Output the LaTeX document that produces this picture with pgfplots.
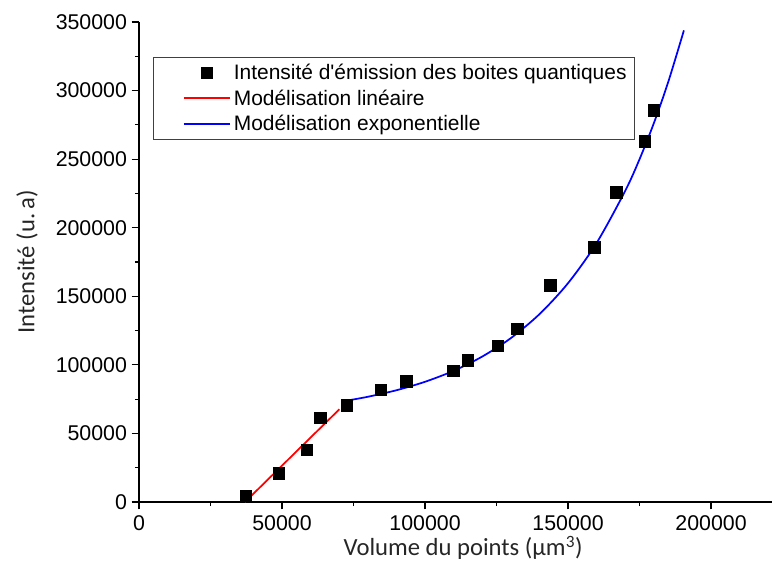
\documentclass[border=0pt]{standalone}
\usepackage{pgfplots}
\pgfplotsset{compat=1.18}
\usepackage{fontspec}
\setmainfont{Liberation Sans}
\newfontfamily\calib{Carlito}
\begin{document}
\begin{tikzpicture}
\path[use as bounding box] (-104.25pt,-56.25pt) rectangle (475.5pt,376.5pt);
\begin{axis}[
  at={(0,0)}, anchor=south west,
  scale only axis, width=474.75pt, height=360pt,
  xmin=0, xmax=221300, ymin=0, ymax=350000,
  axis x line*=bottom, axis y line*=left,
  axis line style={-, line width=1pt},
  xtick={0,50000,100000,150000,200000},
  xticklabels={0,50000,100000,150000,200000},
  ytick={0,50000,100000,150000,200000,250000,300000,350000},
  yticklabels={0,50000,100000,150000,200000,250000,300000,350000},
  minor x tick num=1, minor y tick num=1,
  tick align=outside,
  major tick length=5.5pt, minor tick length=3pt,
  every tick/.style={black, line width=0.9pt},
  scaled ticks=false,
  tick label style={font=\fontsize{16}{19}\selectfont},
  xticklabel style={yshift=-1pt},
  xlabel={\calib Volume du points (μm\textsuperscript{3})},
  ylabel={\calib Intensité (u.\,a)},
  xlabel style={at={(axis description cs:0.512,-0.095)}, anchor=center, font=\fontsize{18.5}{22}\selectfont, text=black!85},
  ylabel style={at={(axis description cs:-0.177,0.5)}, anchor=center, font=\fontsize{18.5}{22}\selectfont, text=black!85},
  legend style={at={(0.022,0.927)}, anchor=north west, draw=black!75, line width=0.8pt,
    font=\fontsize{15.7}{18.5}\selectfont, row sep=2pt, inner xsep=4pt, inner ysep=3pt},
  legend cell align=left,
]
\addplot[only marks, mark=square*, mark size=4.3pt, black,
  legend image code/.code={\path (0pt,0pt) (53pt,0pt); \fill[black] (31.5pt,-3.8pt) rectangle (39.5pt,4.2pt);}]
  coordinates {
  (37400,4400) (48950,21100) (58700,37900) (63300,61250) (72700,70700)
  (84600,81700) (93400,88200) (109800,95500) (115000,103500) (125500,113750)
  (132200,126150) (143700,158200) (159100,185900) (166800,226000)
  (176900,263200) (180000,285800)
};
\addlegendentry{Intensité d\textquotesingle émission des boites quantiques}
\addplot[red, line width=1.3pt,
  legend image code/.code={\path (0pt,0pt); \draw[red, line width=1.3pt] (18pt,0pt) -- (53pt,0pt);}]
  coordinates {(37060,0) (70040,67600)};
\addlegendentry{Modélisation linéaire}
\addplot[blue, line width=1.3pt, smooth,
  legend image code/.code={\path (0pt,0pt); \draw[blue, line width=1.3pt] (18pt,0pt) -- (53pt,0pt);}]
  coordinates {
  (72800,73990) (80000,76730) (90000,81490) (100000,87660) (110000,95660)
  (120000,106060) (130000,119500) (140000,136970) (150000,159580)
  (160000,188930) (170000,226980) (175000,250010) (180000,276280)
  (185000,306150) (190500,343900)
};
\addlegendentry{Modélisation exponentielle}
\end{axis}
\end{tikzpicture}
\end{document}
